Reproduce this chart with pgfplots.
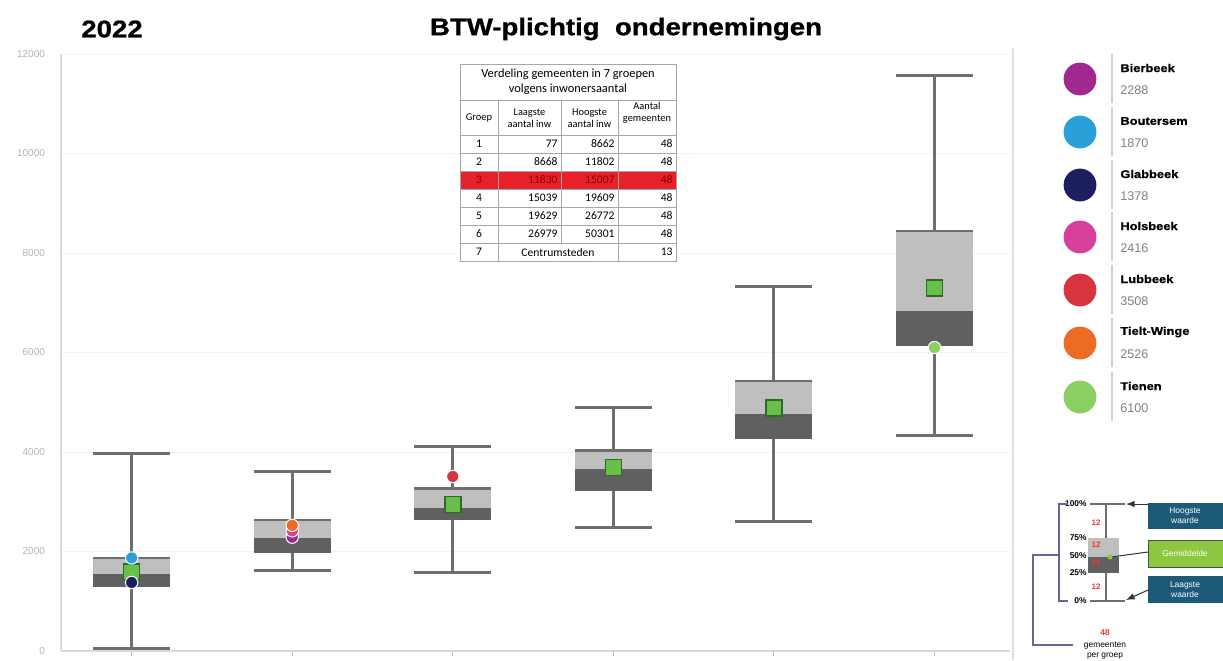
\documentclass[border=0pt]{standalone}
\usepackage{pgfplots}
\pgfplotsset{compat=1.18}
\usepackage{fontspec}
\setmainfont{Liberation Sans}
\newfontfamily\heavy[FakeStretch=1.15,FakeBold=1]{Liberation Sans}
\newfontfamily\tabfont{Carlito}

\definecolor{boxlight}{HTML}{BFBFBF}
\definecolor{boxdark}{HTML}{606060}
\definecolor{whisk}{HTML}{6E6E6E}
\definecolor{meangreen}{HTML}{6ABF4B}
\definecolor{meanedge}{HTML}{2E6B2A}
\definecolor{cBier}{HTML}{A0288F}
\definecolor{cBout}{HTML}{2A9FD8}
\definecolor{cGlab}{HTML}{1B1F5E}
\definecolor{cHols}{HTML}{D6409C}
\definecolor{cLubb}{HTML}{D8343F}
\definecolor{cTiel}{HTML}{EC6C24}
\definecolor{cTien}{HTML}{8CCF63}
\definecolor{infoblue}{HTML}{1D5A78}
\definecolor{infogreen}{HTML}{8DC63F}
\definecolor{tabred}{HTML}{E8202A}

% box: x, left, right, min, Q1, median, Q3, max
\newcommand{\gbox}[8]{%
  \addplot[whisk, line width=1.5pt, forget plot] coordinates {(#1,#4) (#1,#8)};
  \addplot[whisk, line width=1.5pt, forget plot] coordinates {(#2,#4) (#3,#4)};
  \addplot[whisk, line width=1.5pt, forget plot] coordinates {(#2,#8) (#3,#8)};
  \addplot[fill=boxdark, draw=none, forget plot] coordinates {(#2,#5) (#3,#5) (#3,#6) (#2,#6)};
  \addplot[fill=boxlight, draw=none, forget plot] coordinates {(#2,#6) (#3,#6) (#3,#7) (#2,#7)};
  \addplot[whisk, line width=1.1pt, forget plot] coordinates {(#2,#7) (#3,#7)};
}
\newcommand{\muni}[2]{%
  \addplot[only marks, mark=*, mark size=3.1pt,
    mark options={fill=#1, draw=white, line width=0.5pt}] coordinates {#2};
}
% legend entry: colour, centre y, bar top, bar bottom, name y, value y, name, value
\newcommand{\legitem}[8]{%
  \addplot[only marks, mark=*, mark size=8pt, #1] coordinates {(1080,#2)};
  \draw[gray!35, line width=1pt] (1112,#3) -- (1112,#4);
  \node[anchor=west, inner sep=0pt, font=\heavy\bfseries\fontsize{5.6}{7}\selectfont] at (1120,#5) {#7};
  \node[anchor=west, inner sep=0pt, font=\fontsize{6.3}{7}\selectfont, text=gray] at (1120,#6) {#8};
}

\begin{document}
\begin{tikzpicture}
\useasboundingbox (0,0) rectangle (611.5pt,-330pt);

% ---------- main chart ----------
\begin{axis}[
  at={(30.5pt,-325.5pt)}, anchor=south west,
  scale only axis, width=474.5pt, height=298.5pt,
  xmin=-0.44, xmax=5.47, ymin=0, ymax=12000,
  axis x line*=bottom, axis y line*=left,
  axis line style={draw=gray!30, line width=0.8pt},
  xtick={0,...,5}, xticklabels={},
  x tick style={draw=gray!50, line width=0.5pt},
  tick align=outside, major tick length=2.5pt,
  ytick={0,2000,...,12000}, y tick style={draw=none},
  scaled y ticks=false,
  yticklabel style={font=\fontsize{5}{6}\selectfont, text=gray!60, xshift=-2pt},
  /pgf/number format/1000 sep={},
  /pgf/number format/assume math mode=true,
  ymajorgrids, grid style={draw=gray!10, line width=0.5pt},
  clip=false,
]
\gbox{0}{-0.24}{0.24}{60}{1290}{1552}{1875}{3972}
\gbox{1}{0.76}{1.24}{1613}{1976}{2278}{2641}{3609}
\gbox{2}{1.76}{2.24}{1573}{2641}{2883}{3266}{4113}
\gbox{3}{2.76}{3.24}{2480}{3226}{3649}{4032}{4899}
\gbox{4}{3.76}{4.24}{2600}{4254}{4758}{5423}{7318}
\gbox{5}{4.76}{5.24}{4335}{6129}{6835}{8448}{11573}
% group means
\addplot[only marks, mark=square*, mark size=4pt,
  mark options={fill=meangreen, draw=meanedge, line width=0.8pt}] coordinates {
  (0,1593) (2,2943) (3,3690) (4,4879) (5,7298)
};
% municipalities
\muni{cBout}{(0,1870)}
\muni{cGlab}{(0,1378)}
\muni{cBier}{(1,2288)}
\muni{cHols}{(1,2416)}
\muni{cTiel}{(1,2526)}
\muni{cLubb}{(2,3508)}
\muni{cTien}{(5,6100)}
\end{axis}

% ---------- overlay in pixel units ----------
\begin{axis}[
  at={(0pt,0pt)}, anchor=north west,
  scale only axis, width=611.5pt, height=330pt,
  xmin=0, xmax=1223, ymin=0, ymax=660, y dir=reverse,
  hide axis, clip=false,
]
% titles
\node[font=\heavy\bfseries\fontsize{12}{14}\selectfont] at (112,29) {2022};
\node[font=\heavy\bfseries\fontsize{12}{14}\selectfont] at (626,29) {BTW-plichtig\ \ ondernemingen};

% separator
\draw[gray!25, line width=0.8pt] (1013,48) -- (1013,660);

% table
\fill[white] (460,64) rectangle (676,261);
\fill[tabred] (460,171) rectangle (676,189);
\draw[gray!70, line width=0.5pt] (460,64) rectangle (676,261);
\draw[gray!70, line width=0.4pt] (460,100) -- (676,100);
\draw[gray!70, line width=0.4pt] (460,135) -- (676,135);
\draw[gray!70, line width=0.4pt] (460,153) -- (676,153);
\draw[gray!70, line width=0.4pt] (460,171) -- (676,171);
\draw[gray!70, line width=0.4pt] (460,189) -- (676,189);
\draw[gray!70, line width=0.4pt] (460,207) -- (676,207);
\draw[gray!70, line width=0.4pt] (460,225) -- (676,225);
\draw[gray!70, line width=0.4pt] (460,243) -- (676,243);
\draw[gray!70, line width=0.4pt] (498,100) -- (498,261);
\draw[gray!70, line width=0.4pt] (561,100) -- (561,243);
\draw[gray!70, line width=0.4pt] (618,100) -- (618,261);
\node[font=\tabfont\fontsize{6.2}{7.4}\selectfont, align=center] at (568,82)
  {Verdeling gemeenten in 7 groepen\\volgens inwonersaantal};
\begin{scope}[every node/.style={font=\tabfont\fontsize{5.2}{6}\selectfont, align=center}]
\node at (479,118) {Groep};
\node at (529.5,118) {Laagste\\aantal inw};
\node at (589.5,118) {Hoogste\\aantal inw};
\node at (647,113) {Aantal\\gemeenten};
\end{scope}
\begin{scope}[every node/.style={font=\tabfont\fontsize{5.8}{7}\selectfont, inner sep=1pt}]
\node at (479,144) {1}; \node[anchor=east] at (560,144) {77};    \node[anchor=east] at (617,144) {8662};  \node[anchor=east] at (675,144) {48};
\node at (479,162) {2}; \node[anchor=east] at (560,162) {8668};  \node[anchor=east] at (617,162) {11802}; \node[anchor=east] at (675,162) {48};
\node[text=red!55!black] at (479,180) {3}; \node[anchor=east, text=red!55!black] at (560,180) {11830}; \node[anchor=east, text=red!55!black] at (617,180) {15007}; \node[anchor=east, text=red!55!black] at (675,180) {48};
\node at (479,198) {4}; \node[anchor=east] at (560,198) {15039}; \node[anchor=east] at (617,198) {19609}; \node[anchor=east] at (675,198) {48};
\node at (479,216) {5}; \node[anchor=east] at (560,216) {19629}; \node[anchor=east] at (617,216) {26772}; \node[anchor=east] at (675,216) {48};
\node at (479,234) {6}; \node[anchor=east] at (560,234) {26979}; \node[anchor=east] at (617,234) {50301}; \node[anchor=east] at (675,234) {48};
\node at (479,252) {7}; \node at (558,252) {Centrumsteden}; \node[anchor=east] at (675,252) {13};
\end{scope}

% legend
\legitem{cBier}{79}{54}{103}{68}{90}{Bierbeek}{2288}
\legitem{cBout}{132}{107}{156}{121}{143}{Boutersem}{1870}
\legitem{cGlab}{185}{160}{209}{174}{196}{Glabbeek}{1378}
\legitem{cHols}{237}{212}{261}{226}{248}{Holsbeek}{2416}
\legitem{cLubb}{290}{265}{314}{279}{301}{Lubbeek}{3508}
\legitem{cTiel}{343}{318}{367}{332}{354}{Tielt-Winge}{2526}
\legitem{cTien}{397}{372}{421}{386}{408}{Tienen}{6100}

% explanation diagram
\begin{scope}[every node/.style={font=\bfseries\fontsize{4.2}{5}\selectfont, inner sep=0.5pt}]
\node[anchor=east] at (1088,504) {100\%};
\node[anchor=east] at (1088,538) {75\%};
\node[anchor=east] at (1088,556) {50\%};
\node[anchor=east] at (1088,573) {25\%};
\node[anchor=east] at (1088,601) {0\%};
\end{scope}
\draw[gray!80!blue, line width=0.6pt] (1068,504) -- (1059,504) -- (1059,601) -- (1068,601);
\draw[gray!80!blue, line width=0.6pt] (1059,555) -- (1033,555) -- (1033,645) -- (1073,645);
\fill[boxlight] (1088,538) rectangle (1119,557);
\fill[boxdark] (1088,557) rectangle (1119,573);
\draw[whisk, line width=0.7pt] (1106,504) -- (1106,538);
\draw[whisk, line width=0.7pt] (1106,573) -- (1106,601);
\draw[whisk, line width=0.6pt] (1090,504) -- (1125,504);
\draw[whisk, line width=0.6pt] (1090,601) -- (1125,601);
\draw[black!80, line width=0.5pt, -latex] (1148,504) -- (1126,504);
\draw[black!80, line width=0.5pt, -latex] (1148,590) -- (1126,600);
\draw[black!80, line width=0.5pt] (1148,552) -- (1111,557);
\fill[infogreen] (1110,557) circle[radius=2.5];
\begin{scope}[every node/.style={font=\bfseries\fontsize{4}{5}\selectfont, text=red!80, inner sep=0pt}]
\node at (1096,523) {12};
\node at (1096,545) {12};
\node at (1096,563) {12};
\node at (1096,587) {12};
\end{scope}
\fill[infoblue] (1148,503) rectangle (1223,529);
\node[font=\fontsize{4.2}{5}\selectfont, text=white, align=center] at (1185,516) {Hoogste\\waarde};
\filldraw[fill=infogreen, draw=black!70, line width=0.5pt] (1148,540) rectangle (1223,567);
\node[font=\fontsize{4.2}{5}\selectfont, text=white, align=center] at (1185,553.5) {Gemiddelde};
\fill[infoblue] (1148,576) rectangle (1223,603);
\node[font=\fontsize{4.2}{5}\selectfont, text=white, align=center] at (1185,589.5) {Laagste\\waarde};
\node[font=\bfseries\fontsize{4.2}{5}\selectfont, text=red!80, inner sep=0pt] at (1105,633) {48};
\node[font=\fontsize{4.2}{5}\selectfont, inner sep=0pt, align=center] at (1105,651) {gemeenten\\per groep};
\end{axis}
\end{tikzpicture}
\end{document}
